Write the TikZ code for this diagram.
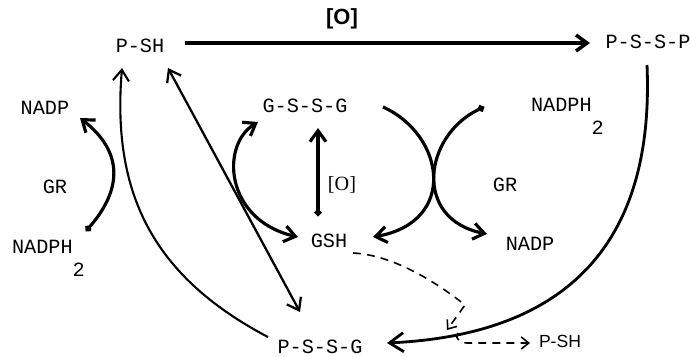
\documentclass[tikz,border=0pt]{standalone}
\usepackage{fontspec}
\setmainfont{Liberation Serif}
\setsansfont{Liberation Sans}
\setmonofont{Liberation Mono}
\usetikzlibrary{arrows.meta, calc}
\tikzset{
  chem/.style    = {inner sep=1pt, font=\ttfamily\fontsize{11.5}{13}\selectfont},
  oxbig/.style   = {inner sep=1pt, font=\sffamily\bfseries\fontsize{12.5}{14}\selectfont},
  oxsmall/.style = {inner sep=1pt, font=\rmfamily\fontsize{11.5}{13}\selectfont},
  hand/.style    = {inner sep=1pt, font=\sffamily\fontsize{10}{12}\selectfont},
  rxn/.style     = {-{Straight Barb[length=2.2mm, width=3.2mm]}, line width=1.8pt},
  dotrxn/.style  = {{Circle[length=3.8pt]}-{Straight Barb[length=2.2mm, width=3.2mm]},
                    line width=1.8pt},
  bothrxn/.style = {{Straight Barb[length=2.2mm, width=3.2mm]}-{Straight Barb[length=2.2mm, width=3.2mm]},
                    line width=1.8pt},
  thinrxn/.style = {-{Straight Barb[length=2.2mm, width=3.2mm]}, line width=1.2pt},
  dashrxn/.style = {-{Straight Barb[length=1.5mm, width=2.4mm]}, line width=0.9pt,
                    dash pattern=on 4.5pt off 3.5pt},
}

\begin{document}
\begin{tikzpicture}[x=0.02cm, y=-0.02cm]
    \useasboundingbox (0,0) rectangle (690,356);

    % --- top row ------------------------------------------------------------
    \node[chem]  (psh)   at (140,46) {P-SH};
    \node[oxbig] (oxtop) at (342,19) {[O]};
    \node[chem]  (pssp)  at (648,42) {P-S-S-P};

    % --- left GR cycle ------------------------------------------------------
    \node[chem] (nadpL) at (45,108) {NADP};
    \node[chem] (grL)   at (55,187) {GR};
    \node[chem, anchor=north west, align=left] (nadphL) at (10,238)
      {NADPH\\\hphantom{NADPH}2};

    % --- glutathione --------------------------------------------------------
    \node[chem]    (gssg)  at (305,106) {G-S-S-G};
    \node[oxsmall] (oxmid) at (342,185) {[O]};
    \node[chem]    (gsh)   at (329,241) {GSH};

    % --- right GR cycle -----------------------------------------------------
    \node[chem, anchor=north west, align=left] (nadphR) at (529,96)
      {NADPH\\\hphantom{NADPH}2};
    \node[chem] (grR)   at (505,185) {GR};
    \node[chem] (nadpR) at (530,244) {NADP};

    % --- bottom -------------------------------------------------------------
    \node[chem] (pssg)   at (320,347) {P-S-S-G};
    \node[hand] (pshout) at (560,341) {P-SH};

    % --- edges --------------------------------------------------------------
    \draw[rxn, line width=2pt] ($(psh)+(45,-3)$) -- ($(pssp)+(-58,1)$);
    \draw[dotrxn] ($(nadphL.north west)+(76,-7)$)
      .. controls +(35,-40) and +(45,35) .. ($(nadpL)+(35,10)$);
    \draw[thinrxn] ($(pssg)+(-52,-10)$)
      .. controls +(-118,-62) and +(-10,122) .. ($(psh)+(-18,22)$);
    \draw[bothrxn, line width=1.3pt] ($(psh)+(28,22)$) -- ($(pssg)+(-20,-35)$);
    \draw[bothrxn] ($(gssg)+(-47,16)$)
      .. controls +(-38,23) and +(-73,-17) .. ($(gsh)+(-31,-4)$);
    \draw[dotrxn] ($(gsh)+(-11,-25)$) -- ($(gssg)+(13,22)$);
    \draw[rxn] ($(gssg)+(78,1)$)
      .. controls +(62,28) and +(85,-15) .. ($(gsh)+(44,-4)$);
    \draw[dotrxn] ($(nadphR.north west)+(-45,11)$)
      .. controls +(-60,28) and +(-75,-15) .. ($(nadpR)+(-43,-10)$);
    \draw[dotrxn, line width=1.6pt, -{Straight Barb[length=2.8mm, width=3.8mm]}] ($(pssp)+(-1,23)$)
      .. controls +(8,185) and +(173,-8) .. ($(pssg)+(67,-4)$);

    % dashed side route
    \coordinate (bend) at (465,305);
    \coordinate (nick) at (458,333);
    \draw[dashrxn] ($(gsh)+(24,12)$)
      .. controls +(42,2) and +(-25,-20) .. (bend) -- ($(pssg)+(127,-17)$);
    \draw[dashrxn] (nick) .. controls +(-4,7) and +(-5,0) .. ($(nick)+(9,10)$)
      -- ($(pshout)+(-30,2)$);
\end{tikzpicture}
\end{document}
